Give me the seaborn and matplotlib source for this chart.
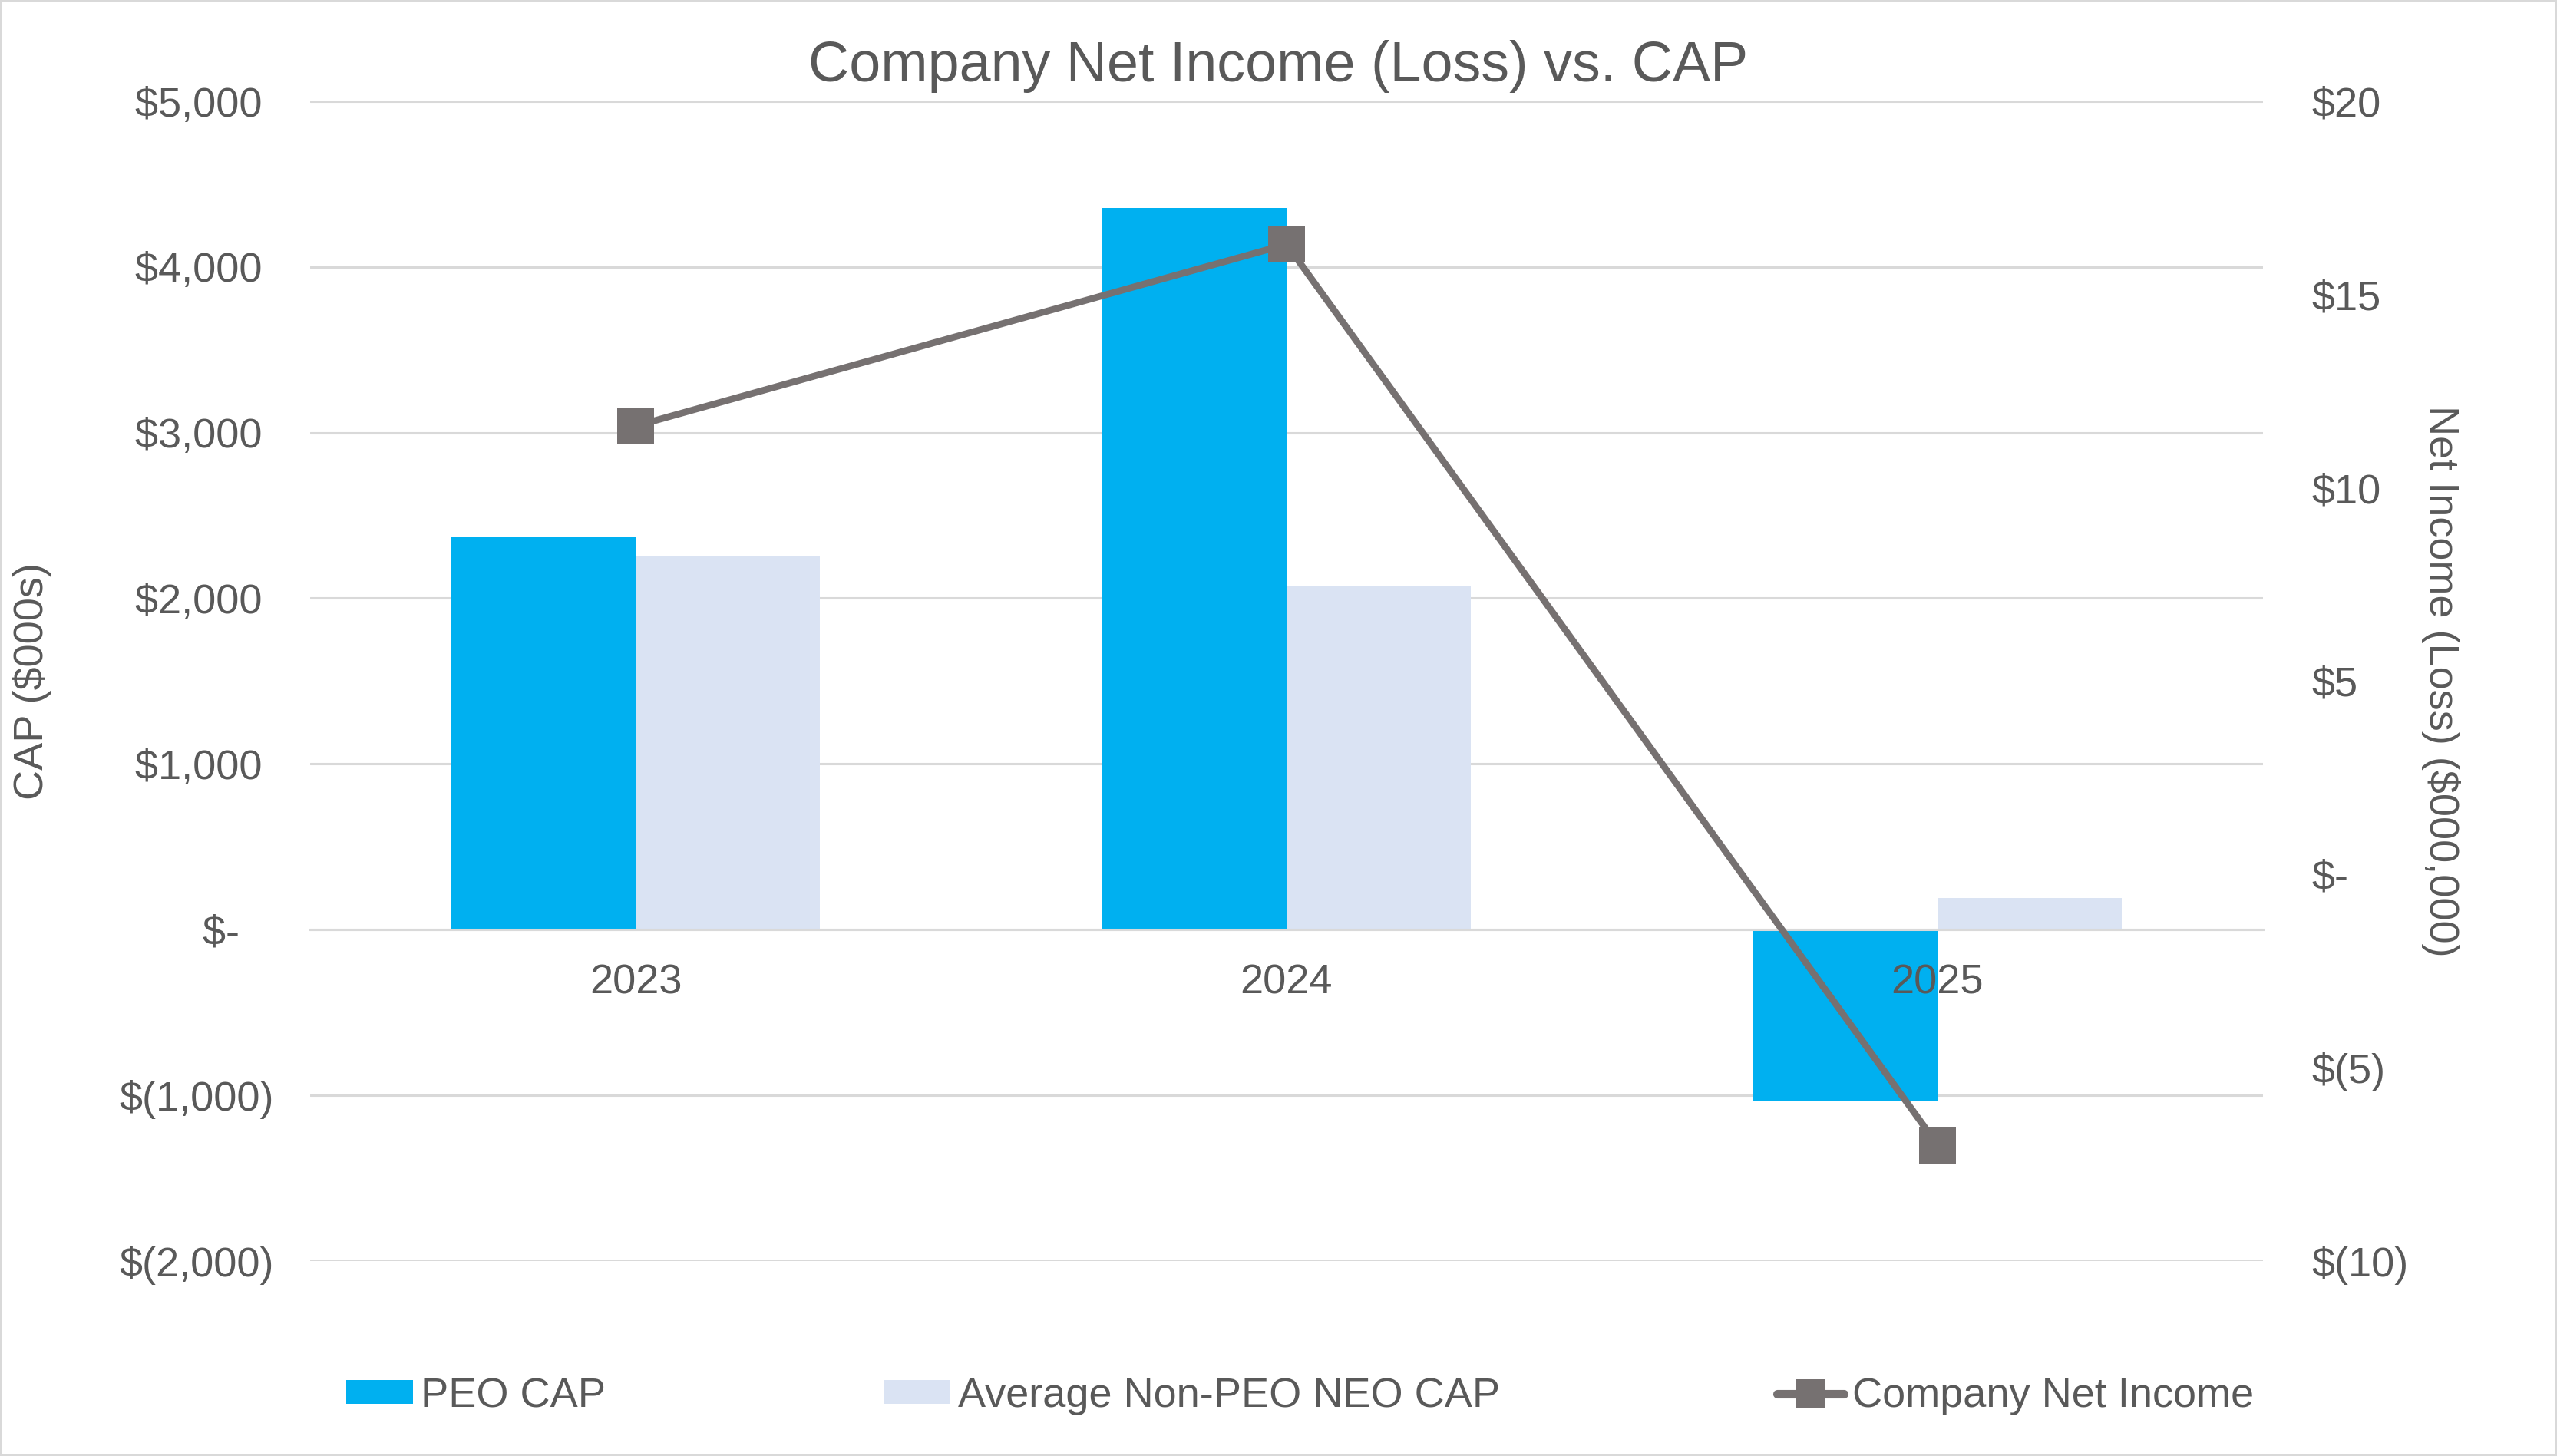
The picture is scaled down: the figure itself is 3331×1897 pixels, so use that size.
# =============================================================================
# Company Net Income (Loss) vs. CAP
# =============================================================================
# Clustered bars for PEO / average non-PEO NEO compensation actually paid
# (left axis, $000s) with company net income as a line (right axis, $000,000).

import matplotlib
matplotlib.use("Agg")
import matplotlib.pyplot as plt
import matplotlib.patches as mpatches
from matplotlib.lines import Line2D
from matplotlib.ticker import FixedLocator, FuncFormatter
import numpy as np
import pandas as pd
import seaborn as sns


# --- Data --------------------------------------------------------------------
years = ["2023", "2024", "2025"]
series_names = ["PEO CAP", "Average Non-PEO NEO CAP"]
peo_cap = [2370, 4355, -1040]
non_peo_cap = [2250, 2070, 190]
net_income = [11.6, 16.3, -7.0]

left_ticks = [-2000, -1000, 0, 1000, 2000, 3000, 4000, 5000]
right_ticks = [-10, -5, 0, 5, 10, 15, 20]

# --- Style -------------------------------------------------------------------
PEO_COLOR = "#00B0F0"
NEO_COLOR = "#DAE3F3"
LINE_COLOR = "#767171"
GRID_COLOR = "#D9D9D9"
TEXT_COLOR = "#595959"
FS = 39

sns.set_theme(style="white")
plt.rcParams["font.family"] = ["Liberation Sans", "DejaVu Sans"]
plt.rcParams["text.color"] = TEXT_COLOR

bars_df = pd.DataFrame({
    "year": years * 2,
    "series": [series_names[0]] * 3 + [series_names[1]] * 3,
    "value": peo_cap + non_peo_cap,
})


def left_fmt(v, _pos):
    # Excel accounting style; trailing spaces mimic the ")" padding
    if v == 0:
        return "$-   "
    if v < 0:
        return f"$({abs(v):,.0f})"
    return f"${v:,.0f} "


def right_fmt(v, _pos):
    if v == 0:
        return "$-"
    if v < 0:
        return f"$({abs(v):,.0f})"
    return f"${v:,.0f}"


# --- Create plot -------------------------------------------------------------
fig = plt.figure(figsize=(33.31, 18.97), dpi=100)
ax = fig.add_axes([0.1213, 0.1341, 0.7637, 0.7963])

sns.barplot(
    data=bars_df, x="year", y="value", hue="series",
    hue_order=series_names,
    palette={series_names[0]: PEO_COLOR, series_names[1]: NEO_COLOR},
    width=0.566, linewidth=0, saturation=1, legend=False, ax=ax,
)

ax.set_ylim(left_ticks[0], left_ticks[-1])
ax.yaxis.set_major_locator(FixedLocator(left_ticks))
ax.yaxis.set_major_formatter(FuncFormatter(left_fmt))
ax.grid(axis="y", color=GRID_COLOR, linewidth=2.2)
ax.grid(axis="x", visible=False)
ax.set_axisbelow(True)
ax.set_xlabel("")
ax.set_ylabel("")

for side in ["top", "right", "left"]:
    ax.spines[side].set_visible(False)
ax.spines["bottom"].set_position(("data", 0))
ax.spines["bottom"].set_color(GRID_COLOR)
ax.spines["bottom"].set_linewidth(2.2)

# category ticks sit between the groups; year labels are drawn by the twin axis
ax.xaxis.set_minor_locator(FixedLocator(np.arange(len(years) + 1) - 0.5))
ax.tick_params(axis="x", which="major", length=0, labelbottom=False)
ax.tick_params(axis="x", which="minor", length=12, width=2.2,
               color=GRID_COLOR, direction="out")
ax.tick_params(axis="y", length=0, pad=34, labelsize=FS, labelcolor=TEXT_COLOR)

# Net income line on the secondary axis
ax2 = ax.twinx()
sns.lineplot(
    x=np.arange(len(years)), y=net_income, ax=ax2,
    color=LINE_COLOR, linewidth=6.3, marker="s", markersize=34,
    markeredgewidth=0, markerfacecolor=LINE_COLOR,
)
ax2.set_ylim(right_ticks[0], right_ticks[-1])
ax2.set_xlim(-0.5, len(years) - 0.5)
ax2.yaxis.set_major_locator(FixedLocator(right_ticks))
ax2.yaxis.set_major_formatter(FuncFormatter(right_fmt))
ax2.tick_params(axis="y", length=0, pad=46, labelsize=FS, labelcolor=TEXT_COLOR)
ax2.grid(False)
for side in ["top", "right", "left", "bottom"]:
    ax2.spines[side].set_visible(False)

# year labels on top of the bars, placed at the zero line of the left axis
zero_frac = -left_ticks[0] / (left_ticks[-1] - left_ticks[0])
ax2.xaxis.set_visible(True)
ax2.spines["bottom"].set_position(("axes", zero_frac))
ax2.tick_params(axis="x", which="both", length=0, bottom=False,
                labelbottom=True, pad=32, labelsize=FS, labelcolor=TEXT_COLOR)

# Titles and axis labels
fig.text(0.5, 1 - 106 / 1897, "Company Net Income (Loss) vs. CAP",
         ha="center", va="baseline", fontsize=53, color=TEXT_COLOR)
fig.text(42 / 3331, 1 - 887 / 1897, "CAP ($000s)", rotation=90,
         ha="center", va="center", fontsize=FS, color=TEXT_COLOR)
fig.text(3180 / 3331, 1 - 887 / 1897, "Net Income (Loss) ($000,000)",
         rotation=270, ha="center", va="center", fontsize=FS, color=TEXT_COLOR)

# Legend across the bottom
handles = [
    mpatches.Patch(facecolor=PEO_COLOR, edgecolor="none"),
    mpatches.Patch(facecolor=NEO_COLOR, edgecolor="none"),
    Line2D([0], [0], color=LINE_COLOR, linewidth=8, marker="s",
           markersize=28, markeredgewidth=0, solid_capstyle="round"),
]
fig.legend(
    handles, series_names + ["Company Net Income"],
    loc="center", bbox_to_anchor=(451 / 3331, 1 - 1819 / 1897, 2485 / 3331, 0),
    mode="expand", ncol=3, frameon=False, fontsize=FS,
    handlelength=1.6, handleheight=0.5, handletextpad=0.2,
    borderpad=0, borderaxespad=0, labelcolor=TEXT_COLOR,
)

# Light frame around the whole chart
fig.patches.append(mpatches.Rectangle(
    (0, 0), 1, 1, transform=fig.transFigure, fill=False,
    edgecolor=GRID_COLOR, linewidth=3, zorder=10,
))

fig.savefig("out.png", dpi=100, facecolor="white")
plt.close(fig)
